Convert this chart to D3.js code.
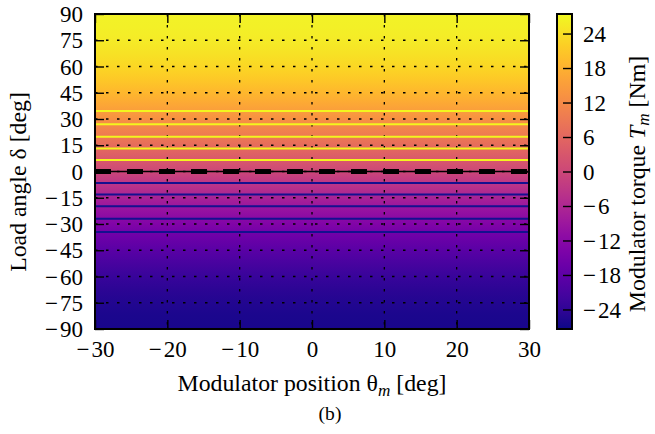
<!DOCTYPE html>
<html>
<head>
<meta charset="utf-8">
<script src="https://cdn.jsdelivr.net/npm/d3@7"></script>
<style>
  html, body { margin: 0; padding: 0; background: #fff; }
  svg { display: block; }
  text { font-family: "Liberation Serif", "Times New Roman", serif; fill: #000; }
</style>
</head>
<body>
<svg id="chart" width="655" height="434"></svg>
<script>
// Axis ticks
const thetaTicks = [-30, -20, -10, 0, 10, 20, 30];
const deltaTicks = [-90, -75, -60, -45, -30, -15, 0, 15, 30, 45, 60, 75, 90];
const torqueTicks = [-24, -18, -12, -6, 0, 6, 12, 18, 24];

// Modulator torque [Nm] versus load angle [deg] (same for every modulator position)
const loadAngle = [-90, -82.5, -75, -67.5, -60, -52.5, -45, -37.5, -30, -22.5, -15, -7.5,
                   0, 7.5, 15, 22.5, 30, 37.5, 45, 52.5, 60, 67.5, 75, 82.5, 90];
const torque = [-26.5, -26.27, -25.6, -24.48, -22.95, -21.02, -18.74, -16.13, -13.25, -10.14, -6.86, -3.46,
                0, 3.46, 6.86, 10.14, 13.25, 16.13, 18.74, 21.02, 22.95, 24.48, 25.6, 26.27, 26.5];

// Contour levels [Nm]
const negLevels = [-15, -12, -9, -6, -3];
const posLevels = [3, 6, 9, 12, 15];
const zeroLevel = [0];

// Colour range of the torque map
const torqueRange = [-27.4, 27.4];

const svg = d3.select("#chart");
const FONT = 23;
const TITLE_FONT = 23.8;

const plot = { left: 95, right: 529, top: 14, bottom: 329 };
const cbar = { left: 557, right: 572, top: 14, bottom: 329 };

const x = d3.scaleLinear().domain([-30, 30]).range([plot.left, plot.right]);
const y = d3.scaleLinear().domain([-90, 90]).range([plot.bottom, plot.top]);
const color = d3.scaleSequential(d3.interpolatePlasma).domain(torqueRange);
const cy = d3.scaleLinear().domain(torqueRange).range([cbar.bottom, cbar.top]);

// load angle at which the torque reaches a given level
const angleOfTorque = d3.scaleLinear().domain(torque).range(loadAngle);

const defs = svg.append("defs");

// Torque map: colour varies only with load angle (stops ordered top to bottom)
const mapGrad = defs.append("linearGradient")
  .attr("id", "mapGrad")
  .attr("gradientUnits", "userSpaceOnUse")
  .attr("x1", 0).attr("x2", 0)
  .attr("y1", y(90)).attr("y2", y(-90));
const mapStops = loadAngle.map((d, i) => ({ d, t: torque[i] }))
  .sort((a, b) => y(a.d) - y(b.d));
mapGrad.selectAll("stop")
  .data(mapStops)
  .join("stop")
  .attr("offset", p => (y(p.d) - y(90)) / (y(-90) - y(90)))
  .attr("stop-color", p => color(p.t));

svg.append("rect")
  .attr("x", x(-30)).attr("y", y(90))
  .attr("width", x(30) - x(-30)).attr("height", y(-90) - y(90))
  .attr("fill", "url(#mapGrad)");

// Dotted grid
const grid = svg.append("g").attr("stroke", "#000").attr("stroke-width", 1.3)
  .attr("stroke-dasharray", "2.5,8.5").attr("fill", "none");
grid.selectAll(".gx").data(thetaTicks.slice(1, -1)).join("line")
  .attr("x1", d => x(d)).attr("x2", d => x(d))
  .attr("y1", plot.top).attr("y2", plot.bottom);
grid.selectAll(".gy").data(deltaTicks.slice(1, -1)).join("line")
  .attr("y1", d => y(d)).attr("y2", d => y(d))
  .attr("x1", plot.left).attr("x2", plot.right);

// Contour lines
const contours = svg.append("g").attr("fill", "none");
contours.selectAll(".pos").data(posLevels).join("line")
  .attr("x1", plot.left).attr("x2", plot.right)
  .attr("y1", d => y(angleOfTorque(d))).attr("y2", d => y(angleOfTorque(d)))
  .attr("stroke", "#f3f51e").attr("stroke-width", 2);
contours.selectAll(".neg").data(negLevels).join("line")
  .attr("x1", plot.left).attr("x2", plot.right)
  .attr("y1", d => y(angleOfTorque(d))).attr("y2", d => y(angleOfTorque(d)))
  .attr("stroke", "#14108f").attr("stroke-width", 2);

// Zero-torque line: thin solid with heavy dashes on top
contours.selectAll(".zero").data(zeroLevel).join("line")
  .attr("x1", plot.left).attr("x2", plot.right)
  .attr("y1", d => y(angleOfTorque(d))).attr("y2", d => y(angleOfTorque(d)))
  .attr("stroke", "#000").attr("stroke-width", 1.6);
contours.selectAll(".zeroDash").data(zeroLevel).join("line")
  .attr("x1", plot.left).attr("x2", plot.right)
  .attr("y1", d => y(angleOfTorque(d))).attr("y2", d => y(angleOfTorque(d)))
  .attr("stroke", "#000").attr("stroke-width", 5)
  .attr("stroke-dasharray", "16,16");

// Axes with inward ticks on all four sides
const TICK = 9;
function styleAxis(g) {
  g.select(".domain").remove();
  g.selectAll(".tick line").attr("stroke", "#000").attr("stroke-width", 1.4);
  g.selectAll(".tick text").attr("font-size", FONT).attr("font-family", "Liberation Serif");
}
// tick labels: a slightly spaced minus sign before negative numbers
function signedLabels(g) {
  g.selectAll(".tick text").each(function (d) {
    const t = d3.select(this).text("");
    if (d < 0) {
      t.append("tspan").text("\u2212");
      t.append("tspan").attr("dx", 2).text(Math.abs(d));
    } else {
      t.append("tspan").text(d);
    }
  });
}

svg.append("g").attr("transform", `translate(0,${plot.bottom})`)
  .call(d3.axisBottom(x).tickValues(thetaTicks).tickSizeInner(-TICK).tickSizeOuter(0))
  .call(styleAxis)
  .call(signedLabels)
  .call(g => g.selectAll(".tick text").attr("dy", "0.71em").attr("y", 12));

svg.append("g").attr("transform", `translate(0,${plot.top})`)
  .call(d3.axisTop(x).tickValues(thetaTicks).tickFormat("").tickSizeInner(-TICK).tickSizeOuter(0))
  .call(styleAxis);

svg.append("g").attr("transform", `translate(${plot.left},0)`)
  .call(d3.axisLeft(y).tickValues(deltaTicks).tickSizeInner(-TICK).tickSizeOuter(0))
  .call(styleAxis)
  .call(signedLabels)
  .call(g => g.selectAll(".tick text").attr("x", -12).attr("dy", "0.33em"));

svg.append("g").attr("transform", `translate(${plot.right},0)`)
  .call(d3.axisRight(y).tickValues(deltaTicks).tickFormat("").tickSizeInner(-TICK).tickSizeOuter(0))
  .call(styleAxis);

// Plot frame
svg.append("rect")
  .attr("x", plot.left).attr("y", plot.top)
  .attr("width", plot.right - plot.left).attr("height", plot.bottom - plot.top)
  .attr("fill", "none").attr("stroke", "#000").attr("stroke-width", 2);

// Colour bar
const cbGrad = defs.append("linearGradient")
  .attr("id", "cbGrad")
  .attr("x1", 0).attr("x2", 0).attr("y1", 1).attr("y2", 0);
cbGrad.selectAll("stop")
  .data(d3.range(0, 1.0001, 0.05))
  .join("stop")
  .attr("offset", t => t)
  .attr("stop-color", t => d3.interpolatePlasma(t));

svg.append("rect")
  .attr("x", cbar.left).attr("y", cbar.top)
  .attr("width", cbar.right - cbar.left).attr("height", cbar.bottom - cbar.top)
  .attr("fill", "url(#cbGrad)");

svg.append("g").attr("transform", `translate(${cbar.right},0)`)
  .call(d3.axisRight(cy).tickValues(torqueTicks).tickSizeInner(-TICK).tickSizeOuter(0))
  .call(styleAxis)
  .call(signedLabels)
  .call(g => g.selectAll(".tick text").attr("x", 11).attr("dy", "0.33em"));

svg.append("rect")
  .attr("x", cbar.left).attr("y", cbar.top)
  .attr("width", cbar.right - cbar.left).attr("height", cbar.bottom - cbar.top)
  .attr("fill", "none").attr("stroke", "#000").attr("stroke-width", 2);

// Axis titles
const xTitle = svg.append("text")
  .attr("x", (plot.left + plot.right) / 2).attr("y", 391)
  .attr("text-anchor", "middle").attr("font-size", TITLE_FONT);
xTitle.append("tspan").text("Modulator position \u03b8");
xTitle.append("tspan").attr("font-style", "italic").attr("font-size", TITLE_FONT * 0.72).attr("dy", 5).text("m");
xTitle.append("tspan").attr("dy", -5).text(" [deg]");

svg.append("text")
  .attr("transform", "translate(26,182) rotate(-90)")
  .attr("text-anchor", "middle").attr("font-size", TITLE_FONT)
  .text("Load angle \u03b4 [deg]");

const cTitle = svg.append("text")
  .attr("transform", "translate(645,184) rotate(-90)")
  .attr("text-anchor", "middle").attr("font-size", TITLE_FONT);
cTitle.append("tspan").text("Modulator torque ");
cTitle.append("tspan").attr("font-style", "italic").text("T");
cTitle.append("tspan").attr("font-style", "italic").attr("font-size", TITLE_FONT * 0.72).attr("dy", 4).text("m");
cTitle.append("tspan").attr("dy", -4).text(" [Nm]");

svg.append("text")
  .attr("x", 330).attr("y", 420)
  .attr("text-anchor", "middle").attr("font-size", FONT * 0.85)
  .text("(b)");
</script>
</body>
</html>
